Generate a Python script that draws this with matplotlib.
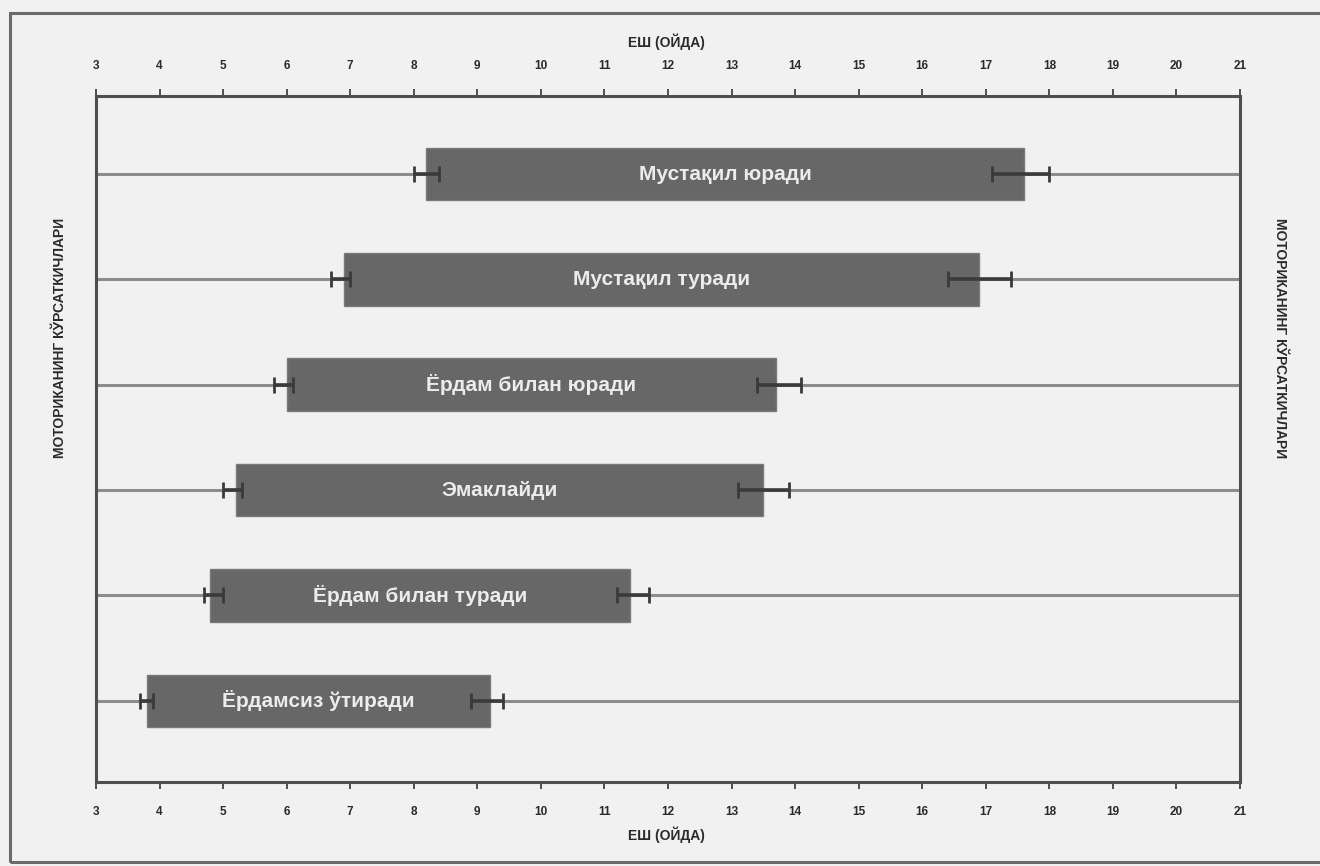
import matplotlib
matplotlib.use("Agg")
import matplotlib.pyplot as plt
from matplotlib.patches import Rectangle

plt.rcParams['font.family'] = ['Liberation Sans', 'DejaVu Sans']

# Motor milestones (top to bottom) and their achievement windows, months
milestones = ["Мустақил юради", "Мустақил туради", "Ёрдам билан юради",
              "Эмаклайди", "Ёрдам билан туради", "Ёрдамсиз ўтиради"]
window_start = [8.2, 6.9, 6.0, 5.2, 4.8, 3.8]
window_end = [17.6, 16.9, 13.7, 13.5, 11.4, 9.2]

# Confidence intervals around the start and end of each window
start_ci_low = [8.0, 6.7, 5.8, 5.0, 4.7, 3.7]
start_ci_high = [8.4, 7.0, 6.1, 5.3, 5.0, 3.9]
end_ci_low = [17.1, 16.4, 13.4, 13.1, 11.2, 8.9]
end_ci_high = [18.0, 17.4, 14.1, 13.9, 11.7, 9.4]

month_ticks = list(range(3, 22))
x_title = "ЕШ (ОЙДА)"
side_title = "МОТОРИКАНИНГ КЎРСАТКИЧЛАРИ"

bg = "#f1f1f1"
bar_color = "#676767"
spine_color = "#4f4f4f"
text_dark = "#2a2a2a"

fig = plt.figure(figsize=(13.2, 8.66), dpi=100, facecolor=bg)
ax = fig.add_axes([0.0727, 0.097, 0.8667, 0.7921], facecolor=bg)

n = len(milestones)
rows = [n - 1 - i for i in range(n)]

# full-width guide line through every row
ax.hlines(rows, month_ticks[0], month_ticks[-1], color="#8c8c8c", lw=2.2, zorder=1)

for y, s, e, name in zip(rows, window_start, window_end, milestones):
    ax.barh(y, e - s, left=s, height=0.5, color=bar_color,
            edgecolor="#7a7a7a", linewidth=1.0, zorder=2)
    ax.text((s + e) / 2, y, name, ha="center", va="center", color="#ececec",
            fontsize=15, fontweight="bold", zorder=4)

for lo, hi in ((start_ci_low, start_ci_high), (end_ci_low, end_ci_high)):
    mids = [(a + b) / 2 for a, b in zip(lo, hi)]
    half = [(b - a) / 2 for a, b in zip(lo, hi)]
    ax.errorbar(mids, rows, xerr=half, fmt="none", ecolor="#3a3a3a",
                elinewidth=2.6, capsize=6, capthick=2.0, zorder=3)

ax.set_xlim(month_ticks[0], month_ticks[-1])
ax.set_ylim(-0.77, n - 1 + 0.74)
ax.set_yticks([])
ax.set_xticks(month_ticks)
ax.tick_params(axis="x", which="both", top=True, bottom=True,
               labeltop=True, labelbottom=True, direction="out",
               length=5, width=1.4, color=spine_color, pad=12,
               labelsize=8.5, labelcolor=text_dark)
for lab in ax.get_xticklabels():
    lab.set_fontweight("bold")
for sp in ax.spines.values():
    sp.set_color(spine_color)
    sp.set_linewidth(2.2)

# axis titles above and below
fig.text(0.5045, 1 - 42 / 866, x_title, ha="center", va="center",
         fontsize=10, fontweight="bold", color=text_dark)
fig.text(0.5045, 1 - 835 / 866, x_title, ha="center", va="center",
         fontsize=10, fontweight="bold", color=text_dark)

# side titles
fig.text(60 / 1320, 1 - 338 / 866, side_title, rotation=90, ha="center",
         va="center", fontsize=10, fontweight="bold", color=text_dark)
fig.text(1280 / 1320, 1 - 338 / 866, side_title, rotation=-90, ha="center",
         va="center", fontsize=10, fontweight="bold", color=text_dark)

# page frame
fig.patches.append(Rectangle((10 / 1320, 1 - 862 / 866), 1.2, (862 - 13) / 866,
                             transform=fig.transFigure, fill=False,
                             edgecolor="#6a6a6a", linewidth=2.2))

fig.savefig("out.png", dpi=100, facecolor=bg)
